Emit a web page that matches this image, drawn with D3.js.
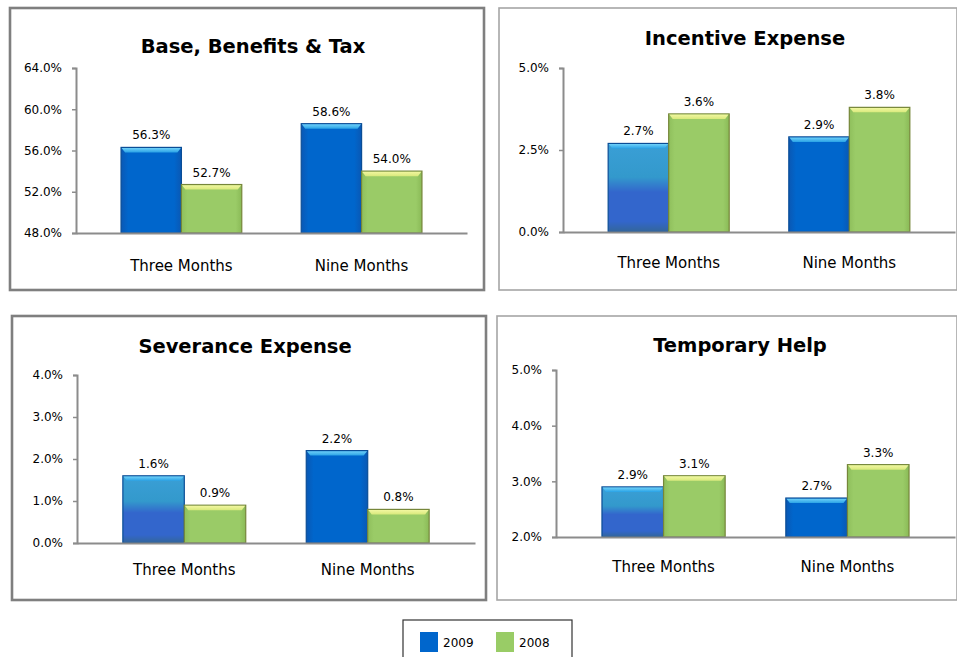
<!DOCTYPE html>
<html>
<head>
<meta charset="utf-8">
<script src="https://cdn.jsdelivr.net/npm/d3@7/dist/d3.min.js"></script>
<style>
  html, body { margin: 0; padding: 0; background: #ffffff; }
  svg { display: block; }
  text { font-family: "DejaVu Sans", Verdana, sans-serif; fill: #000; }
</style>
</head>
<body>
<svg id="chart" width="957" height="657"></svg>
<script>
// ---- data ----
const categories = ["Three Months", "Nine Months"];
const seriesNames = ["2009", "2008"];

const baseTitle = "Base, Benefits & Tax";
const base2009 = [56.3, 58.6];
const base2008 = [52.7, 54.0];
const baseTicks = [48, 52, 56, 60, 64];

const incentiveTitle = "Incentive Expense";
const incentive2009 = [2.7, 2.9];
const incentive2008 = [3.6, 3.8];
const incentiveTicks = [0, 2.5, 5];

const severanceTitle = "Severance Expense";
const severance2009 = [1.6, 2.2];
const severance2008 = [0.9, 0.8];
const severanceTicks = [0, 1, 2, 3, 4];

const tempTitle = "Temporary Help";
const temp2009 = [2.9, 2.7];
const temp2008 = [3.1, 3.3];
const tempTicks = [2, 3, 4, 5];

// ---- layout ----
const svg = d3.select("#chart");
const defs = svg.append("defs");

function grad(id, stops, vertical) {
  const g = defs.append("linearGradient").attr("id", id)
    .attr("x1", 0).attr("y1", 0).attr("x2", vertical ? 0 : 1).attr("y2", vertical ? 1 : 0);
  stops.forEach(([o, c]) => g.append("stop").attr("offset", o).attr("stop-color", c));
}
grad("blueBody", [[0, "#0a58b4"], [0.12, "#0066cc"], [0.88, "#0066cc"], [1, "#0a58b4"]], false);
grad("greenBody", [[0, "#8fbf5c"], [0.1, "#9acb67"], [0.9, "#9acb67"], [1, "#8aba57"]], false);
grad("blueFade", [[0, "#3a9fd6"], [0.38, "#3399cc"], [0.55, "#3366cc"], [0.88, "#3366cc"], [1, "#336699"]], true);
grad("blueTop", [[0, "#6fd0f8"], [1, "#2aa3e6"]], true);
grad("greenTop", [[0, "#f2f7a0"], [1, "#d8e97c"]], true);

const seriesStyle = [
  { body: "url(#blueBody)", top: "url(#blueTop)", edge: "#0a4d96" },
  { body: "url(#greenBody)", top: "url(#greenTop)", edge: "#76863a" }
];

const panels = [
  { title: baseTitle, s09: base2009, s08: base2008, ticks: baseTicks, fmt: d3.format(".1f"),
    box: [10, 8, 474, 282], frame: "#7f7f7f", frameW: 2.6,
    plot: { left: 76, right: 467, top: 68, bottom: 233 },
    titleX: 253, titleY: 53, catY: 271, fadeFirst: false },
  { title: incentiveTitle, s09: incentive2009, s08: incentive2008, ticks: incentiveTicks, fmt: d3.format(".1f"),
    box: [499, 8, 458, 282], frame: "#a6a6a6", frameW: 1.6,
    plot: { left: 563, right: 955, top: 68, bottom: 232 },
    titleX: 745, titleY: 45, catY: 268, fadeFirst: true },
  { title: severanceTitle, s09: severance2009, s08: severance2008, ticks: severanceTicks, fmt: d3.format(".1f"),
    box: [12, 316, 474, 284], frame: "#7f7f7f", frameW: 2.6,
    plot: { left: 77, right: 475, top: 375, bottom: 543 },
    titleX: 245, titleY: 353, catY: 575, fadeFirst: true },
  { title: tempTitle, s09: temp2009, s08: temp2008, ticks: tempTicks, fmt: d3.format(".1f"),
    box: [497, 316, 460, 284], frame: "#a6a6a6", frameW: 1.6,
    plot: { left: 556, right: 955, top: 370, bottom: 537 },
    titleX: 740, titleY: 352, catY: 572, fadeFirst: true }
];

panels.forEach(p => {
  const g = svg.append("g");
  const [bx, by, bw, bh] = p.box;
  g.append("rect").attr("x", bx).attr("y", by).attr("width", bw).attr("height", bh)
    .attr("fill", "#fff").attr("stroke", p.frame).attr("stroke-width", p.frameW);

  g.append("text").attr("x", p.titleX).attr("y", p.titleY)
    .attr("text-anchor", "middle").attr("font-weight", "bold").attr("font-size", 19.5)
    .text(p.title);

  const x0 = d3.scaleBand().domain(categories)
    .range([p.plot.left, p.plot.right]).paddingInner(0.33).paddingOuter(0.25);
  const x1 = d3.scaleBand().domain(seriesNames).range([0, x0.bandwidth()]);
  const y = d3.scaleLinear().domain(d3.extent(p.ticks)).range([p.plot.bottom, p.plot.top]);

  // y axis
  const yAxis = g.append("g").attr("transform", `translate(${p.plot.left},0)`)
    .call(d3.axisLeft(y).tickValues(p.ticks).tickFormat(d => p.fmt(d) + "%")
      .tickSize(4).tickPadding(10));
  yAxis.select(".domain").attr("stroke", "#8c8c8c").attr("stroke-width", 2);
  yAxis.selectAll(".tick line").attr("stroke", "#8c8c8c").attr("stroke-width", 1.5);
  yAxis.selectAll(".tick text").attr("font-size", 12).attr("fill", "#000")
    .attr("font-family", "DejaVu Sans, sans-serif");

  // bars
  const rows = categories.map((c, i) => ({ cat: c, vals: [p.s09[i], p.s08[i]] }));
  rows.forEach((r, ci) => {
    r.vals.forEach((v, si) => {
      const st = seriesStyle[si];
      const xL = x0(r.cat) + x1(seriesNames[si]);
      const w = x1.bandwidth();
      const yT = y(v), yB = y(y.domain()[0]);
      const fill = (p.fadeFirst && si === 0 && ci === 0) ? "url(#blueFade)" : st.body;
      g.append("rect").attr("x", xL).attr("y", yT).attr("width", w).attr("height", yB - yT)
        .attr("fill", fill).attr("stroke", st.edge).attr("stroke-width", 1.2);
      // bevelled top edge
      g.append("path")
        .attr("d", `M${xL + 0.6},${yT + 0.6} L${xL + w - 0.6},${yT + 0.6} L${xL + w - 4},${yT + 5} L${xL + 4},${yT + 5} Z`)
        .attr("fill", st.top);
      g.append("text").attr("x", xL + w / 2).attr("y", yT - 8)
        .attr("text-anchor", "middle").attr("font-size", 12)
        .text(p.fmt(v) + "%");
    });
  });

  // x axis
  const xAxis = g.append("g").attr("transform", `translate(0,${p.plot.bottom})`)
    .call(d3.axisBottom(x0).tickSize(0).tickPadding(0));
  xAxis.select(".domain").attr("stroke", "#8c8c8c").attr("stroke-width", 2);
  xAxis.selectAll(".tick text").remove();
  categories.forEach(c => {
    g.append("text").attr("x", x0(c) + x0.bandwidth() / 2).attr("y", p.catY)
      .attr("text-anchor", "middle").attr("font-size", 15).text(c);
  });
});

// legend
const legendColors = ["#0066cc", "#99cc66"];
const legend = svg.append("g");
legend.append("rect").attr("x", 403).attr("y", 620).attr("width", 169).attr("height", 45)
  .attr("fill", "#fff").attr("stroke", "#333").attr("stroke-width", 1.2);
const lx = d3.scalePoint().domain(seriesNames).range([420, 496]);
seriesNames.forEach((s, i) => {
  legend.append("rect").attr("x", lx(s)).attr("y", 632).attr("width", 18).attr("height", 20)
    .attr("fill", legendColors[i]);
  legend.append("text").attr("x", lx(s) + 23).attr("y", 647).attr("font-size", 12).text(s);
});
</script>
</body>
</html>
